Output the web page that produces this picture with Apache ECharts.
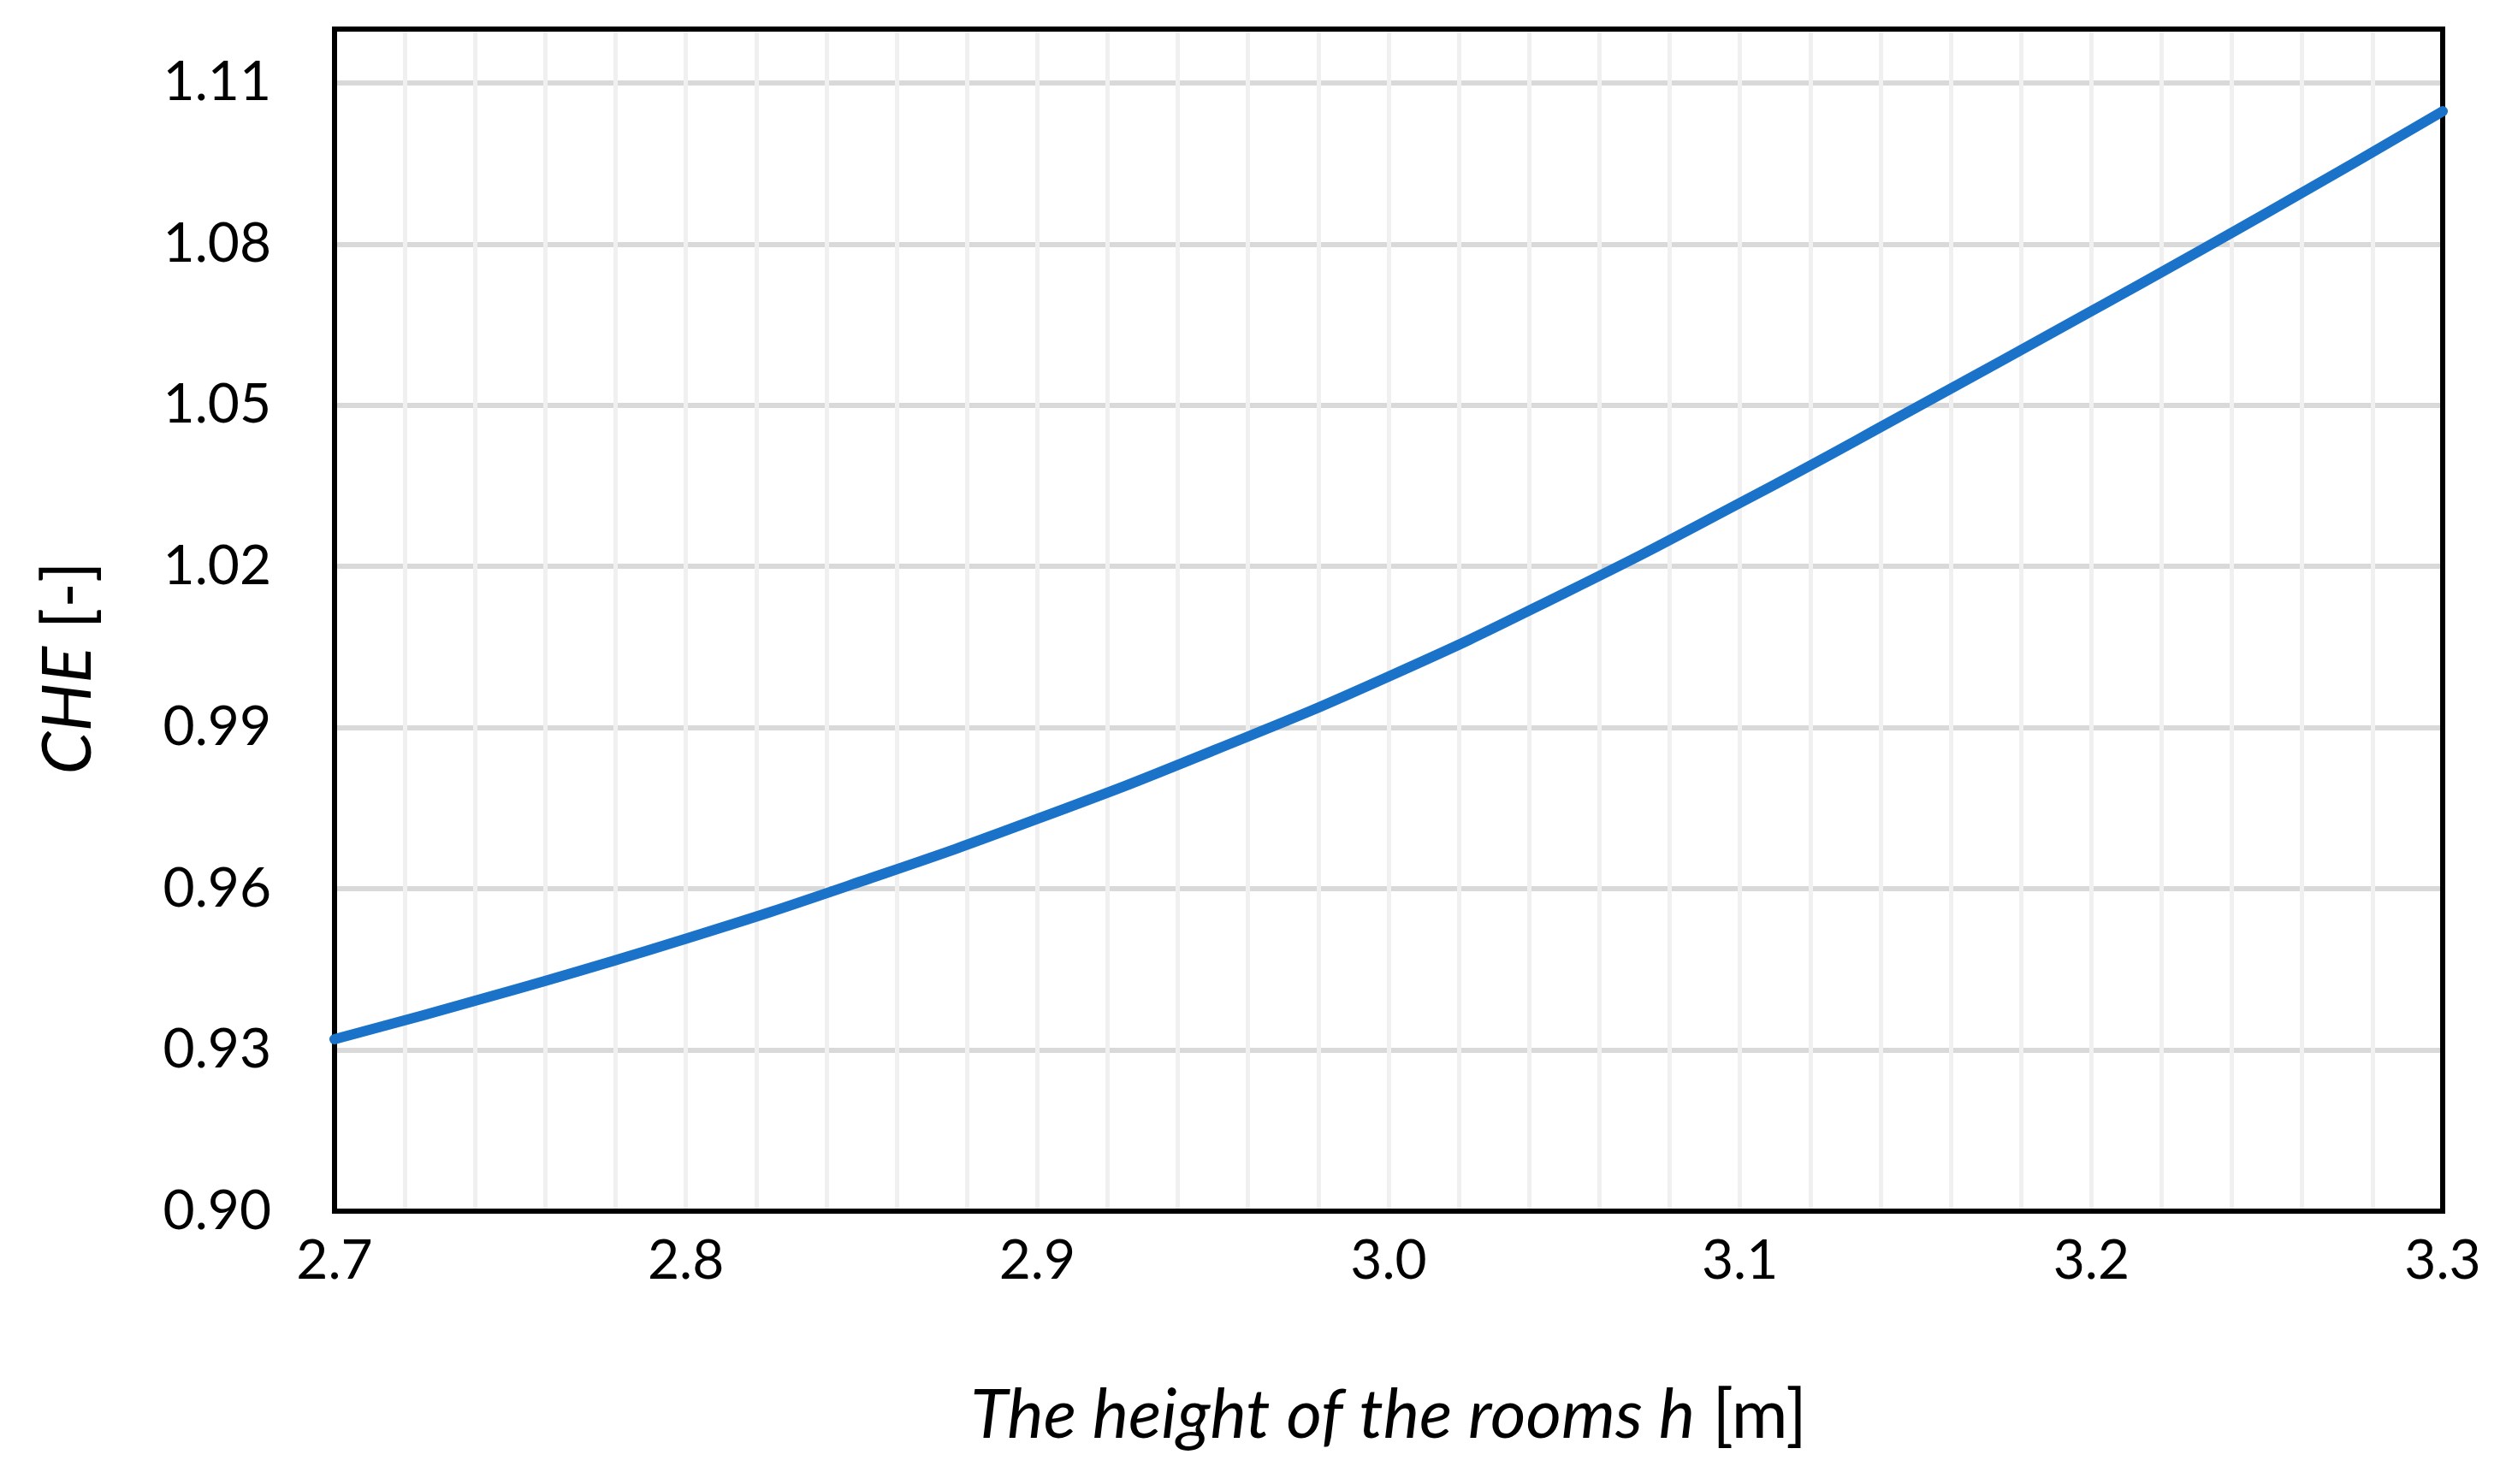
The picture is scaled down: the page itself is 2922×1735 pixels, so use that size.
<!DOCTYPE html>
<html>
<head>
<meta charset="utf-8">
<script src="https://cdn.jsdelivr.net/npm/echarts@6/dist/echarts.min.js"></script>
<style>
  html, body { margin: 0; padding: 0; background: #fff; }
  #chart { width: 2922px; height: 1735px; }
</style>
</head>
<body>
<div id="chart"></div>
<script>
// room height h [m]
const heights = [2.70, 2.75, 2.80, 2.85, 2.90, 2.95, 3.00, 3.05, 3.10, 3.15, 3.20, 3.25, 3.30]
// CHE [-]
const cheValues = [0.932, 0.941, 0.9507, 0.9614, 0.973, 0.9857, 0.9995, 1.015, 1.0318, 1.0495, 1.0675, 1.0858, 1.1047]

const xMin = 2.7, xMax = 3.3, xStep = 0.1
const yMin = 0.90, yMax = 1.12, yStep = 0.03

const font = 'Lato'
const chart = echarts.init(document.getElementById('chart'))

chart.setOption({
  animation: false,
  grid: {
    left: 391, right: 67, top: 34, bottom: 319,
    show: true,
    z: 2,
    borderColor: '#000',
    borderWidth: 6,
    backgroundColor: 'transparent'
  },
  xAxis: {
    type: 'value',
    min: xMin, max: xMax, interval: xStep,
    z: 1,
    name: '{i|The height of the rooms h} [m]',
    nameLocation: 'middle',
    nameGap: 199,
    nameTextStyle: {
      fontFamily: font, fontSize: 80, color: '#000',
      rich: { i: { fontFamily: font, fontSize: 80, fontStyle: 'italic', color: '#000' } }
    },
    axisLine: { show: false },
    axisTick: { show: false },
    axisLabel: {
      fontFamily: font, fontSize: 64, color: '#000', margin: 26,
      formatter: v => v.toFixed(1)
    },
    splitLine: { show: true, showMinLine: false, showMaxLine: false, lineStyle: { color: '#f0f0f0', width: 5 } },
    minorTick: { show: false, splitNumber: 5 },
    minorSplitLine: { show: true, lineStyle: { color: '#f0f0f0', width: 5 } }
  },
  yAxis: {
    type: 'value',
    min: yMin, max: yMax, interval: yStep,
    z: 0,
    name: '{i|CHE} [-]',
    nameLocation: 'middle',
    nameGap: 271,
    nameTextStyle: {
      fontFamily: font, fontSize: 80, color: '#000',
      padding: [0, 112, 0, 0],
      rich: { i: { fontFamily: font, fontSize: 80, fontStyle: 'italic', color: '#000' } }
    },
    axisLine: { show: false },
    axisTick: { show: false },
    axisLabel: {
      fontFamily: font, fontSize: 64, color: '#000', margin: 74,
      showMaxLabel: false,
      formatter: v => v.toFixed(2)
    },
    splitLine: { show: true, showMinLine: false, showMaxLine: false, lineStyle: { color: '#d9d9d9', width: 6 } }
  },
  series: [{
    type: 'line',
    z: 3,
    clip: false,
    smooth: true,
    showSymbol: false,
    data: heights.map((h, i) => [h, cheValues[i]]),
    lineStyle: { color: '#1a73c8', width: 12, cap: 'round' }
  }]
})
</script>
</body>
</html>
